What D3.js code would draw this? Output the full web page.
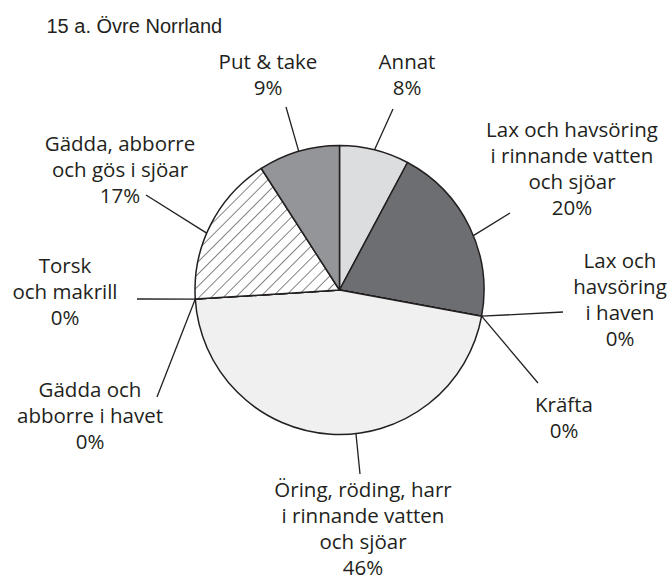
<!DOCTYPE html>
<html><head><meta charset="utf-8">
<script src="https://cdn.jsdelivr.net/npm/d3@7"></script>
<style>html,body{margin:0;padding:0;background:#fff;}svg{display:block;}</style>
</head><body>
<script>
// ---- data ----
const title = "15 a. Övre Norrland";
const categories = [
  "Annat",
  "Lax och havsöring i rinnande vatten och sjöar",
  "Lax och havsöring i haven",
  "Kräfta",
  "Öring, röding, harr i rinnande vatten och sjöar",
  "Gädda och abborre i havet",
  "Torsk och makrill",
  "Gädda, abborre och gös i sjöar",
  "Put & take"
];
const labelLines = [
  ["Annat"],
  ["Lax och havsöring", "i rinnande vatten", "och sjöar"],
  ["Lax och", "havsöring", "i haven"],
  ["Kräfta"],
  ["Öring, röding, harr", "i rinnande vatten", "och sjöar"],
  ["Gädda och", "abborre i havet"],
  ["Torsk", "och makrill"],
  ["Gädda, abborre", "och gös i sjöar"],
  ["Put & take"]
];
const values = [7.8, 20.1, 0, 0, 46.1, 0, 0, 16.9, 9.1];
const fills = ["#dcdddf", "#6d6e71", "#6d6e71", "#6d6e71", "#f0f0f1", "#f0f0f1", "#f0f0f1", "url(#hatch)", "#939598"];

// ---- layout ----
const W = 672, H = 583;
const cx = 339.5, cy = 290, R = 144.5;
const lineH = 26;
// label anchor (center x, first baseline y), leader outer end, position within slice for leader start
const labelLayout = [
  {x: 407, y: 69,  ox: 393, oy: 109, f: 0.5},
  {x: 572, y: 137, ox: 510, oy: 213, f: 0.55},
  {x: 620, y: 268, ox: 563, oy: 312, f: 0.5},
  {x: 564, y: 412, ox: 538, oy: 383, f: 0.5},
  {x: 363, y: 497, ox: 360, oy: 474, f: 0.44},
  {x: 90,  y: 397, ox: 157, oy: 397, f: 0.5},
  {x: 65,  y: 273, ox: 137, oy: 299, f: 0.5},
  {x: 120, y: 151, ox: 146, oy: 195, f: 0.44},
  {x: 268, y: 69,  ox: 286, oy: 107, f: 0.5}
];

const svg = d3.select("body").append("svg").attr("width", W).attr("height", H);
const defs = svg.append("defs");
const pat = defs.append("pattern").attr("id", "hatch")
  .attr("patternUnits", "userSpaceOnUse").attr("width", 8.6).attr("height", 8.6)
  .attr("patternTransform", "rotate(45)");
pat.append("rect").attr("width", 8.6).attr("height", 8.6).attr("fill", "#fff");
pat.append("line").attr("x1", 0).attr("y1", 0).attr("x2", 0).attr("y2", 8.6)
  .attr("stroke", "#231f20").attr("stroke-width", 1.1);

svg.append("text").attr("x", 46.5).attr("y", 33)
  .attr("font-family", "'Liberation Sans', Arial, sans-serif").attr("font-size", 20)
  .attr("fill", "#231f20").text(title);

const pie = d3.pie().sort(null).value(d => d);
const arcs = pie(values);
const arc = d3.arc().innerRadius(0).outerRadius(R);
const g = svg.append("g").attr("transform", `translate(${cx},${cy})`);

g.selectAll("path.slice").data(arcs).enter().append("path")
  .attr("class", "slice")
  .attr("d", arc)
  .attr("fill", (d, i) => fills[i])
  .attr("stroke", "#231f20")
  .attr("stroke-width", 1.5)
  .attr("stroke-linejoin", "round");

// leader lines
arcs.forEach((a, i) => {
  const L = labelLayout[i];
  const ang = a.startAngle + (a.endAngle - a.startAngle) * L.f;
  const ix = cx + R * Math.sin(ang), iy = cy - R * Math.cos(ang);
  svg.append("line").attr("x1", ix).attr("y1", iy).attr("x2", L.ox).attr("y2", L.oy)
    .attr("stroke", "#231f20").attr("stroke-width", 1.3);
});

// labels
arcs.forEach((a, i) => {
  const L = labelLayout[i];
  const lines = labelLines[i].concat([Math.round(values[i]) + "%"]);
  const t = svg.append("text").attr("text-anchor", "middle")
    .attr("font-family", "'Open Sans', 'Noto Sans', sans-serif").attr("font-size", 20.5)
    .attr("fill", "#231f20");
  lines.forEach((s, k) => {
    t.append("tspan").attr("x", L.x).attr("y", L.y + k * lineH).text(s);
  });
});
</script>
</body></html>
